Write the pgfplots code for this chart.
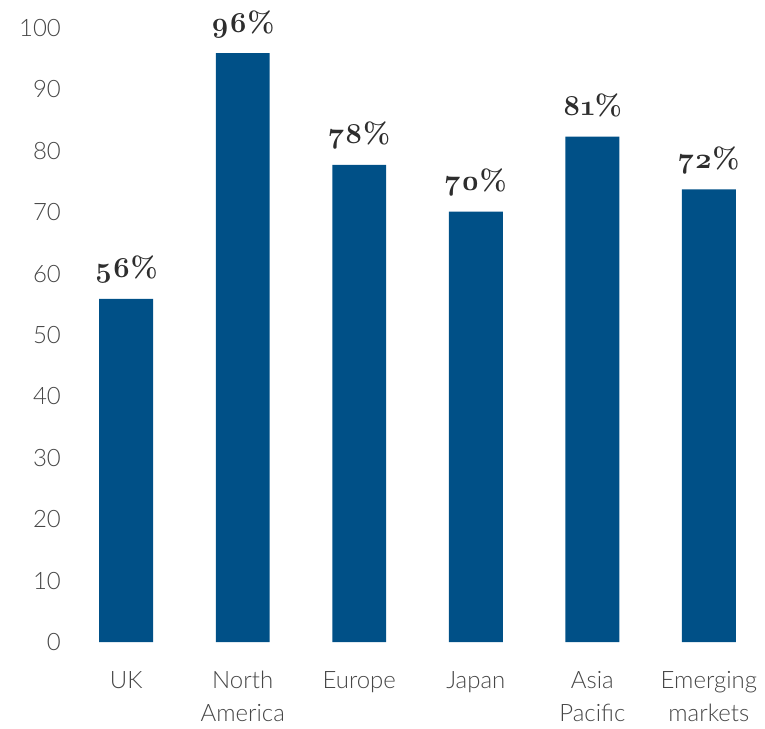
\documentclass[border=0pt]{standalone}
\usepackage{fontspec}
\setmainfont{Lato}[UprightFont=* Light]
\newfontfamily\labfont{Latin Modern Roman}[Numbers=OldStyle]
\usepackage{pgfplots}
\usepackage{pgfplotstable}
\pgfplotsset{compat=1.18}
\definecolor{barblue}{RGB}{0,80,135}
\definecolor{txt}{RGB}{70,70,70}
\definecolor{labtxt}{RGB}{45,45,45}
\pgfplotstableread{
x y lab
0 55.9 56
1 95.9 96
2 77.7 78
3 70.1 70
4 82.3 81
5 73.7 72
}\datatable
\begin{document}
\begin{tikzpicture}
\path (-34pt,-42pt) (348.9pt,321.5pt);
\begin{axis}[
  at={(0,0)}, anchor=south west,
  scale only axis, width=348.9pt, height=307.5pt,
  xmin=-0.5, xmax=5.48, ymin=0, ymax=100,
  axis line style={draw=none},
  major tick length=0pt,
  ytick={0,10,...,100}, xtick={0,...,5},
  xticklabels={{UK},{North\\America},{Europe},{Japan},{Asia\\Pacific},{Emerging\\markets}},
  xticklabel style={align=center, font=\fontsize{12}{16.5}\selectfont, text=txt, yshift=-11pt},
  yticklabel style={font=\fontsize{12}{14}\selectfont, text=txt},
  /pgf/number format/assume math mode=true,
  ybar, bar width=27pt,
  nodes near coords={\pgfplotspointmeta\%},
  point meta=explicit symbolic,
  nodes near coords style={font=\labfont\bfseries\fontsize{14.5}{14.5}\selectfont, text=labtxt, anchor=base, yshift=10.5pt},
]
\addplot[fill=barblue, draw=none, bar shift=0pt] table[x=x,y=y,meta=lab]{\datatable};
\end{axis}
\end{tikzpicture}
\end{document}
